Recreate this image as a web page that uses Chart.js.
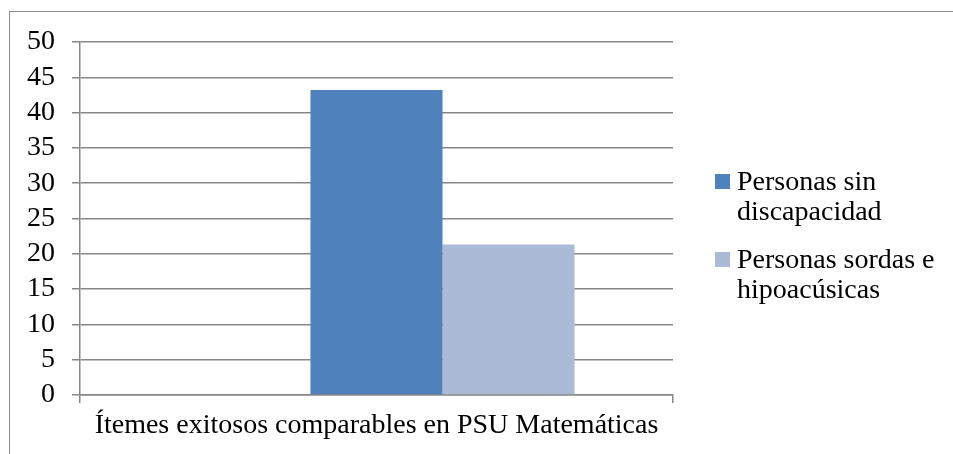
<!DOCTYPE html>
<html>
<head>
<meta charset="utf-8">
<script src="https://cdn.jsdelivr.net/npm/chart.js@4.4.1/dist/chart.umd.min.js"></script>
<style>
  html, body { margin: 0; padding: 0; background: #fff; }
  #wrap { position: relative; width: 953px; height: 454px; overflow: hidden; }
  #frame { position: absolute; left: 9px; top: 11px; width: 960px; height: 460px;
           border-left: 1.5px solid #8c8c8c; border-top: 1.5px solid #8c8c8c; }
  #chartBox { position: absolute; left: 0; top: 0; width: 953px; height: 454px; }
</style>
</head>
<body>
<div id="wrap">
  <div id="frame"></div>
  <div id="chartBox"><canvas id="c"></canvas></div>
</div>
<script>
// ---- data ----
const categories = ["Ítemes exitosos comparables en PSU Matemáticas"];
// first series in the original sheet is empty (keeps the Excel bar slot)
const emptySeries = [null];
const sinDiscapacidad = [43.2];
const sordasHipoacusicas = [21.3];
const seriesNames = [["Personas sin", "discapacidad"], ["Personas sordas e", "hipoacúsicas"]];
const colors = ["#4F81BD", "#AABAD7"];

const FONT = "'Liberation Serif', serif";
const FSIZE = 28;
const GRID = "#878787";

const datasets = [
  { label: "", data: emptySeries, backgroundColor: "rgba(0,0,0,0)" },
  { label: seriesNames[0].join(" "), data: sinDiscapacidad, backgroundColor: colors[0] },
  { label: seriesNames[1].join(" "), data: sordasHipoacusicas, backgroundColor: colors[1] },
].map(d => ({ ...d, borderWidth: 0, categoryPercentage: 0.668, barPercentage: 1.0 }));

// legend drawn on the canvas so the wrapped labels use the same font
const wrapLegend = {
  id: "wrapLegend",
  afterDraw(chart) {
    const ctx = chart.ctx;
    ctx.save();
    ctx.font = `${FSIZE}px ${FONT}`;
    ctx.textBaseline = "middle";
    const x0 = 715, firstY = 181, itemGap = 78, lineH = 30;
    seriesNames.forEach((lines, i) => {
      const y = firstY + i * itemGap;
      ctx.fillStyle = colors[i];
      ctx.fillRect(x0, y - 7, 15, 15);
      ctx.fillStyle = "#000";
      lines.forEach((t, j) => ctx.fillText(t, x0 + 22, y + 2 + j * lineH));
    });
    ctx.restore();
  }
};

new Chart(document.getElementById("c"), {
  type: "bar",
  data: { labels: categories, datasets },
  plugins: [wrapLegend],
  options: {
    responsive: true,
    maintainAspectRatio: false,
    animation: false,
    layout: { padding: { top: 42, right: 280, bottom: 0, left: 0 } },
    plugins: { legend: { display: false }, tooltip: { enabled: false } },
    scales: {
      x: {
        offset: true,
        grid: { display: true, drawOnChartArea: false, offset: true, color: GRID, lineWidth: 1.5, tickLength: 8 },
        border: { color: GRID, width: 1.5 },
        ticks: { color: "#000", font: { family: FONT, size: FSIZE }, padding: 6, maxRotation: 0 },
        afterFit: (s) => { s.height = 59; },
      },
      y: {
        min: 0, max: 50,
        ticks: { stepSize: 5, autoSkip: false, color: "#000", font: { family: FONT, size: FSIZE }, padding: 17 },
        grid: { color: GRID, lineWidth: 1.5, tickLength: 8 },
        border: { color: GRID, width: 1.5 },
        afterFit: (s) => { s.width = 80; },
      },
    },
  },
});
</script>
</body>
</html>
